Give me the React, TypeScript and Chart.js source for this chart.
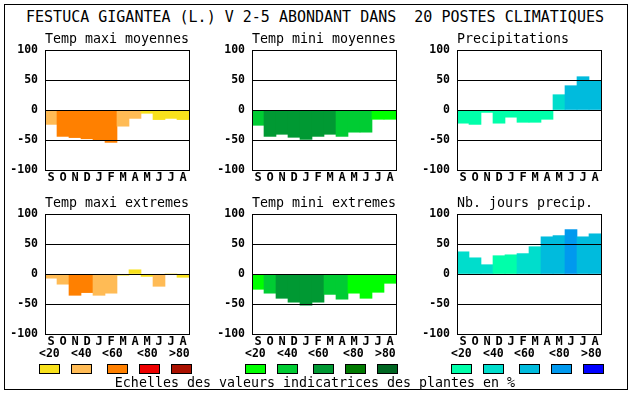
import React, { useEffect, useRef } from "react";
import { Chart, registerables } from "chart.js";

Chart.register(...registerables);

const MONTHS = ["S", "O", "N", "D", "J", "F", "M", "A", "M", "J", "J", "A"];
const Y_MIN = -100;
const Y_MAX = 100;
const Y_STEP = 50;

const TITLE = "FESTUCA GIGANTEA (L.) V 2-5 ABONDANT DANS  20 POSTES CLIMATIQUES";
const FOOTER = "Echelles des valeurs indicatrices des plantes en %";
const PANEL_TITLES = [
  "Temp maxi moyennes",
  "Temp mini moyennes",
  "Precipitations",
  "Temp maxi extremes",
  "Temp mini extremes",
  "Nb. jours precip.",
];
const SCALE_LABELS = ["<20", "<40", "<60", "<80", ">80"];

const WARM = ["#f8e11c", "#ffbb55", "#ff8000", "#ee0000", "#aa1100"];
const GREEN = ["#00ff00", "#00cc33", "#009933", "#007a00", "#006622"];
const BLUE = ["#00ffaa", "#00ddcc", "#00bbdd", "#0099ee", "#0000ff"];

// values (%) and class index (0..4) of each month
const tmaxMoy = [-24, -44, -46, -48, -49.5, -54, -27, -14, -5.5, -16, -14, -16];
const tmaxMoyCls = [1, 2, 2, 2, 2, 2, 1, 1, 0, 0, 0, 0];
const tminMoy = [-25.5, -44, -40.5, -45.5, -49, -44, -40.5, -44, -37, -37, -15.5, -15.5];
const tminMoyCls = [1, 2, 2, 2, 2, 2, 2, 1, 1, 1, 0, 0];
const precip = [-22, -24, -4, -22, -12, -20.5, -20.5, -15.5, 25.5, 40.5, 55.5, 49.5];
const precipCls = [0, 0, 0, 0, 0, 0, 0, 0, 1, 2, 2, 2];
const tmaxExt = [-7, -17, -35.5, -31, -35.5, -32, -2, 7, -4, -20.5, 0, -5.5];
const tmaxExtCls = [1, 1, 2, 2, 1, 1, 0, 0, 0, 1, 0, 0];
const tminExt = [-25.5, -32, -40.5, -47, -52, -47, -34, -42, -32, -40.5, -30.5, -15.5];
const tminExtCls = [0, 1, 2, 2, 2, 2, 1, 1, 0, 0, 0, 0];
const nbJours = [37, 27, 15.5, 30.5, 32, 34, 45.5, 62, 64, 74, 62, 67];
const nbJoursCls = [1, 1, 1, 0, 0, 1, 1, 2, 2, 3, 2, 2];

const MONO = "'DejaVu Sans Mono', monospace";

const PANELS = [
  { plotLeft: 45, plotTop: 50, values: tmaxMoy, cls: tmaxMoyCls, palette: WARM },
  { plotLeft: 252, plotTop: 50, values: tminMoy, cls: tminMoyCls, palette: GREEN },
  { plotLeft: 457, plotTop: 50, values: precip, cls: precipCls, palette: BLUE },
  { plotLeft: 45, plotTop: 214, values: tmaxExt, cls: tmaxExtCls, palette: WARM },
  { plotLeft: 252, plotTop: 214, values: tminExt, cls: tminExtCls, palette: GREEN },
  { plotLeft: 457, plotTop: 214, values: nbJours, cls: nbJoursCls, palette: BLUE },
];

const Y_AXIS_W = 44;
const PAD_TOP = 14;
const PAD_RIGHT = 4;
const X_AXIS_H = 16;
const PLOT_W = 144;
const PLOT_H = 120;
const CANVAS_W = Y_AXIS_W + PLOT_W + PAD_RIGHT;
const CANVAS_H = PAD_TOP + PLOT_H + X_AXIS_H;

const framePlugin = {
  id: "frame",
  afterDraw(chart: any) {
    const { ctx, chartArea } = chart;
    const x = Math.round(chartArea.right - 0.5) + 0.5;
    ctx.save();
    ctx.strokeStyle = "#000";
    ctx.lineWidth = 1;
    ctx.beginPath();
    ctx.moveTo(x, Math.round(chartArea.top));
    ctx.lineTo(x, Math.round(chartArea.bottom) + 1);
    ctx.stroke();
    ctx.restore();
  },
};

function Panel(props: { left: number; top: number; values: number[]; cls: number[]; palette: string[] }) {
  const ref = useRef<HTMLCanvasElement>(null);
  useEffect(() => {
    const chart = new Chart(ref.current as HTMLCanvasElement, {
      type: "bar",
      data: {
        labels: MONTHS,
        datasets: [
          {
            data: props.values,
            backgroundColor: props.cls.map((c) => props.palette[c]),
            borderWidth: 0,
            barPercentage: 1,
            categoryPercentage: 1,
          },
        ],
      },
      options: {
        responsive: false,
        animation: false,
        devicePixelRatio: 1,
        layout: { padding: { top: PAD_TOP, right: PAD_RIGHT, left: 0, bottom: 0 } },
        plugins: { legend: { display: false }, tooltip: { enabled: false }, title: { display: false } },
        scales: {
          x: {
            offset: true,
            grid: { display: false, drawTicks: false },
            border: { display: true, color: "#000", width: 1 },
            ticks: {
              color: "#000",
              font: { family: MONO, size: 12, weight: "bold" },
              padding: 1,
              maxRotation: 0,
              autoSkip: false,
            },
            afterFit: (s: any) => {
              s.height = X_AXIS_H;
            },
          },
          y: {
            min: Y_MIN,
            max: Y_MAX,
            grid: { color: "#000", lineWidth: 1, drawTicks: false, z: 1 },
            border: { display: true, color: "#000", width: 1, z: 1 },
            ticks: {
              stepSize: Y_STEP,
              color: "#000",
              font: { family: MONO, size: 11.5, weight: "bold" },
              padding: 7,
            },
            afterFit: (s: any) => {
              s.width = Y_AXIS_W;
            },
          },
        },
      },
      plugins: [framePlugin],
    } as any);
    return () => chart.destroy();
  }, []);
  return (
    <canvas
      ref={ref}
      width={CANVAS_W}
      height={CANVAS_H}
      style={{ position: "absolute", left: props.left, top: props.top, width: CANVAS_W, height: CANVAS_H }}
    />
  );
}

const BOX_OFFSETS = [0, 32, 68, 100, 132];
const LABEL_OFFSETS = [0, 32, 63, 98, 130];
const GROUP_LEFTS = [39, 245, 451];
const PALETTES = [WARM, GREEN, BLUE];

export default function App() {
  return (
    <div
      style={{
        position: "fixed",
        left: 0,
        top: 0,
        width: 630,
        height: 394,
        background: "#fff",
        overflow: "hidden",
        fontFamily: MONO,
        color: "#000",
      }}
    >
      <div
        style={{
          position: "absolute",
          left: 4,
          top: 4,
          width: 624,
          height: 386,
          border: "1px solid #000",
          boxSizing: "border-box",
        }}
      />
      {PANELS.map((p, i) => (
        <Panel
          key={i}
          left={p.plotLeft - Y_AXIS_W}
          top={p.plotTop - PAD_TOP}
          values={p.values}
          cls={p.cls}
          palette={p.palette}
        />
      ))}
      <div
        style={{
          position: "absolute",
          left: 0,
          top: 10,
          width: 630,
          textAlign: "center",
          fontSize: 15,
          lineHeight: 1,
          whiteSpace: "pre",
        }}
      >
        {TITLE}
      </div>
      {PANELS.map((p, i) => (
        <div
          key={"t" + i}
          style={{
            position: "absolute",
            left: p.plotLeft,
            top: p.plotTop - 18,
            fontSize: 13.3,
            lineHeight: 1,
            whiteSpace: "pre",
          }}
        >
          {PANEL_TITLES[i]}
        </div>
      ))}
      {GROUP_LEFTS.map((g, gi) => (
        <React.Fragment key={"g" + gi}>
          {SCALE_LABELS.map((lab, k) => (
            <div
              key={"l" + k}
              style={{
                position: "absolute",
                left: g + LABEL_OFFSETS[k],
                top: 348,
                fontSize: 11.5,
                fontWeight: "bold",
                lineHeight: 1,
                whiteSpace: "pre",
              }}
            >
              {lab}
            </div>
          ))}
          {PALETTES[gi].map((c, k) => (
            <div
              key={"b" + k}
              style={{
                position: "absolute",
                left: g + BOX_OFFSETS[k],
                top: 364,
                width: 21,
                height: 10,
                background: c,
                border: "1px solid #000",
                boxSizing: "border-box",
              }}
            />
          ))}
        </React.Fragment>
      ))}
      <div
        style={{
          position: "absolute",
          left: 0,
          top: 376,
          width: 630,
          textAlign: "center",
          fontSize: 13.3,
          lineHeight: 1,
          whiteSpace: "pre",
        }}
      >
        {FOOTER}
      </div>
    </div>
  );
}
